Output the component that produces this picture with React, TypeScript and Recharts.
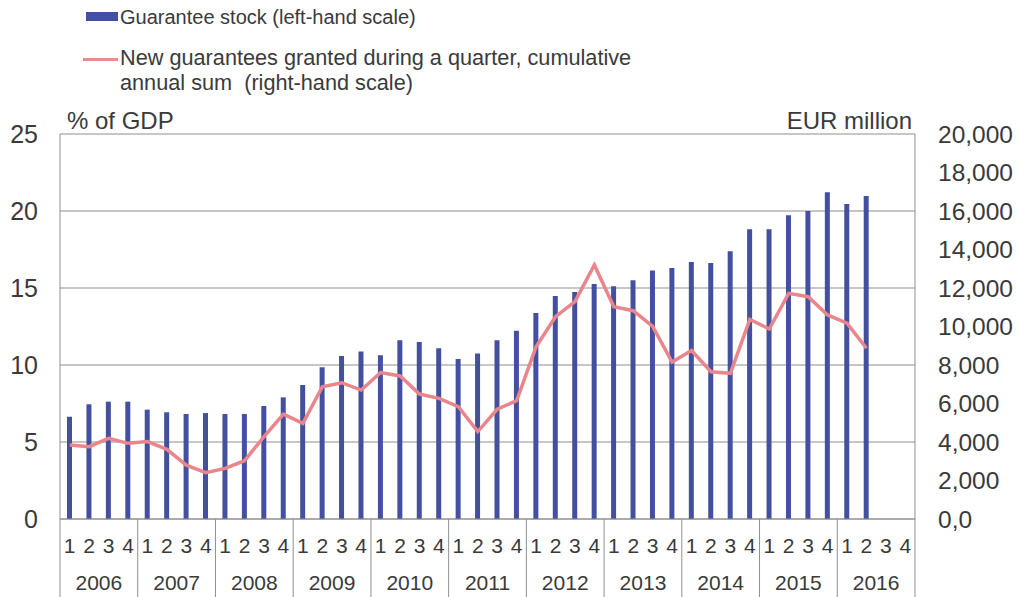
import React from 'react';
import { ComposedChart, Bar, Line, XAxis, YAxis, CartesianGrid } from 'recharts';

const years = ['2006', '2007', '2008', '2009', '2010', '2011', '2012', '2013', '2014', '2015', '2016'];
const quarterNames = ['1', '2', '3', '4'];

// guarantee stock, % of GDP (left-hand scale)
const stock = [
	6.64, 7.45, 7.62, 7.62,
	7.1, 6.93, 6.82, 6.88,
	6.82, 6.82, 7.34, 7.9,
	8.7, 9.85, 10.58, 10.87,
	10.63, 11.6, 11.49, 11.08,
	10.39, 10.74, 11.6, 12.23,
	13.38, 14.48, 14.74, 15.26,
	15.11, 15.5, 16.13, 16.3,
	16.69, 16.62, 17.38, 18.81,
	18.81, 19.72, 20.0, 21.21,
	20.45, 20.97,
];

// new guarantees, cumulative annual sum, EUR million (right-hand scale)
const newGuarantees = [
	3840, 3760, 4190, 3930,
	4020, 3620, 2800, 2410,
	2630, 3030, 4280, 5450,
	4970, 6870, 7080, 6700,
	7610, 7430, 6490, 6270,
	5840, 4540, 5700, 6150,
	8950, 10510, 11290, 13200,
	11030, 10820, 10000, 8150,
	8750, 7650, 7570, 10370,
	9870, 11720, 11550, 10600,
	10170, 8870,
];

const leftTicks = [0, 5, 10, 15, 20, 25];
const rightTicks = [0, 2000, 4000, 6000, 8000, 10000, 12000, 14000, 16000, 18000, 20000];

const data = years.flatMap((y, yi) =>
	quarterNames.map((q, qi) => {
		const i = yi * 4 + qi;
		return {
			key: y + '-' + q,
			stock: i < stock.length ? stock[i] : null,
			fresh: i < newGuarantees.length ? newGuarantees[i] : null,
		};
	})
);

const W = 1017;
const H = 597;
const plotLeft = 60;
const plotRight = 915;
const band = (plotRight - plotLeft) / data.length;
const txt = '#3a3a3a';
const gridCol = '#8f8f8f';
const font = '"Liberation Sans", Arial, sans-serif';

const fmtRight = (v: number) => (v === 0 ? '0,0' : v.toLocaleString('en-US'));

function QuarterTick(props: any) {
	const { x, y, payload } = props;
	const [yr, q] = String(payload.value).split('-');
	const last = payload.index === data.length - 1;
	return (
		<g>
			<text x={x} y={y + 34} textAnchor='middle' fontSize={21} fill={txt} fontFamily={font}>
				{q}
			</text>
			{q === '1' && (
				<>
					<line x1={x - band / 2} x2={x - band / 2} y1={y} y2={y + 78} stroke={gridCol} />
					<text x={x + band * 1.5} y={y + 71} textAnchor='middle' fontSize={21} fill={txt} fontFamily={font}>
						{yr}
					</text>
				</>
			)}
			{last && <line x1={x + band / 2} x2={x + band / 2} y1={y} y2={y + 78} stroke={gridCol} />}
		</g>
	);
}

export default function App() {
	return (
		<div style={{ position: 'absolute', left: 0, top: 0, width: W, height: H, fontFamily: font, color: txt, background: '#fff' }}>
			{/* legend */}
			<div style={{ position: 'absolute', left: 86, top: 12, width: 32, height: 9, background: '#4350a0' }} />
			<div style={{ position: 'absolute', left: 120, top: 5, fontSize: 20, lineHeight: '24px' }}>Guarantee stock (left-hand scale)</div>
			<div style={{ position: 'absolute', left: 83, top: 58, width: 35, height: 3, background: '#ec8b8f' }} />
			<div style={{ position: 'absolute', left: 120, top: 45, fontSize: 21.7, lineHeight: '25px' }}>
				New guarantees granted during a quarter, cumulative
				<br />
				annual sum&nbsp; (right-hand scale)
			</div>
			<div style={{ position: 'absolute', left: 67, top: 108, fontSize: 24, lineHeight: '26px' }}>% of GDP</div>
			<div style={{ position: 'absolute', right: W - 912, top: 108, fontSize: 24, lineHeight: '26px' }}>EUR million</div>

			<div style={{ position: 'absolute', left: 0, top: 0 }}>
				<ComposedChart width={W} height={H} data={data} margin={{ top: 134, right: 0, bottom: 0, left: 0 }} barCategoryGap={0}>
					<CartesianGrid yAxisId='left' vertical={false} stroke={gridCol} strokeWidth={1} />
					<XAxis
						dataKey='key'
						interval={0}
						height={78}
						tickSize={0}
						tickMargin={0}
						tickLine={false}
						axisLine={{ stroke: gridCol }}
						tick={<QuarterTick />}
					/>
					<YAxis
						yAxisId='left'
						domain={[0, 25]}
						ticks={leftTicks}
						width={60}
						tickSize={0}
						tickMargin={22}
						tickLine={false}
						axisLine={{ stroke: gridCol }}
						tick={{ fontSize: 25, fill: txt, fontFamily: font }}
					/>
					<YAxis
						yAxisId='right'
						orientation='right'
						domain={[0, 20000]}
						ticks={rightTicks}
						width={W - plotRight}
						tickSize={0}
						tickMargin={23}
						tickLine={false}
						axisLine={{ stroke: gridCol }}
						tickFormatter={fmtRight}
						tick={{ fontSize: 24.5, fill: txt, fontFamily: font }}
					/>
					<Bar yAxisId='left' dataKey='stock' fill='#4350a0' barSize={5} isAnimationActive={false} />
					<Line
						yAxisId='right'
						type='linear'
						dataKey='fresh'
						stroke='#ea868b'
						strokeWidth={3.5}
						dot={false}
						activeDot={false}
						isAnimationActive={false}
					/>
				</ComposedChart>
			</div>
		</div>
	);
}
